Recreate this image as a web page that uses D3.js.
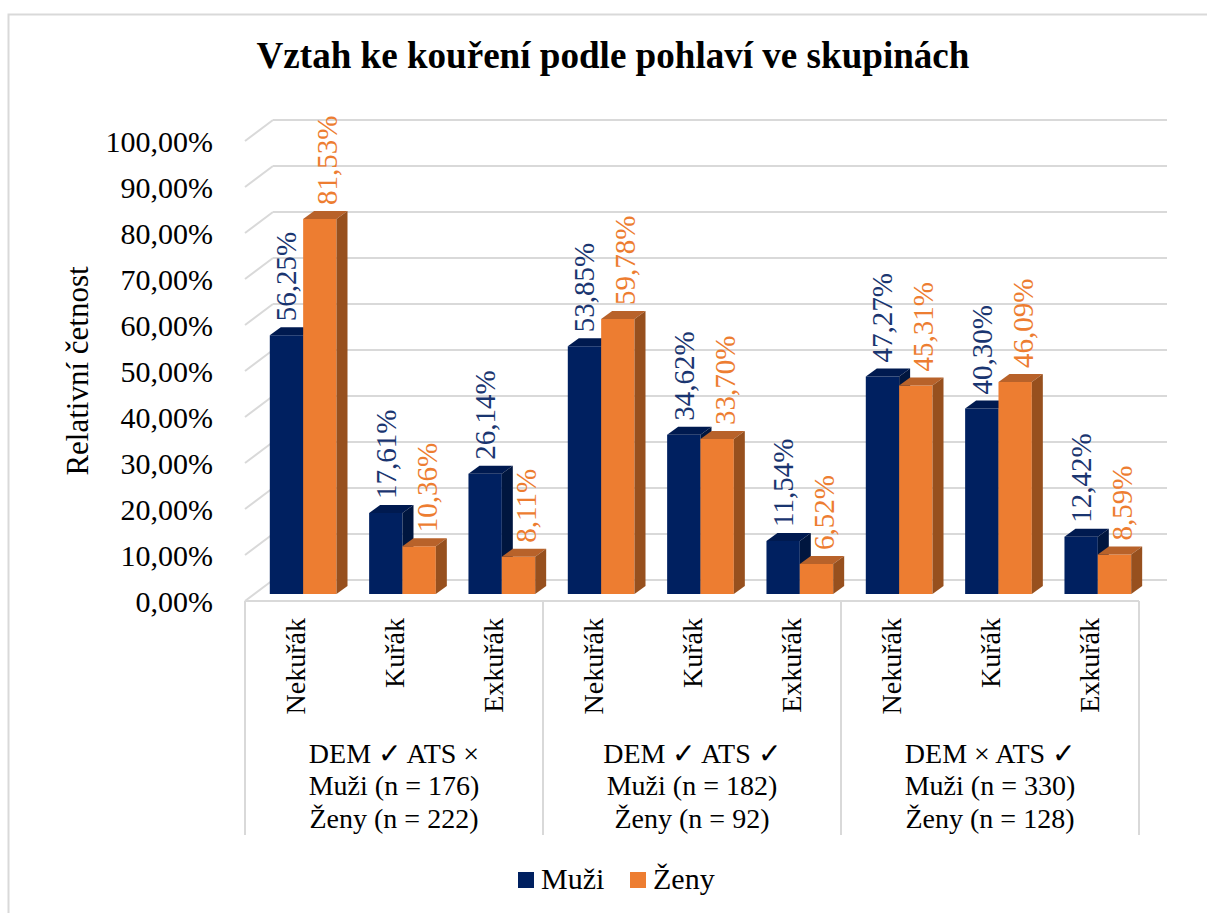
<!DOCTYPE html>
<html><head><meta charset="utf-8">
<script src="https://cdn.jsdelivr.net/npm/d3@7"></script>
<style>body{margin:0;background:#fff} svg{display:block}</style>
</head><body>
<svg id="c" width="1207" height="913"></svg>
<script>
// ---- data ----
const title = "Vztah ke kouření podle pohlaví ve skupinách";
const yAxisTitle = "Relativní četnost";
const categories = ["Nekuřák", "Kuřák", "Exkuřák"];
const groupLine1 = ["DEM ✓ ATS ×", "DEM ✓ ATS ✓", "DEM × ATS ✓"];
const groupLine2 = ["Muži (n = 176)", "Muži (n = 182)", "Muži (n = 330)"];
const groupLine3 = ["Ženy (n = 222)", "Ženy (n = 92)", "Ženy (n = 128)"];
const seriesNames = ["Muži", "Ženy"];
const muzi = [56.25, 17.61, 26.14, 53.85, 34.62, 11.54, 47.27, 40.30, 12.42];
const zeny = [81.53, 10.36, 8.11, 59.78, 33.70, 6.52, 45.31, 46.09, 8.59];
const yTicks = [0, 10, 20, 30, 40, 50, 60, 70, 80, 90, 100];

// ---- styles ----
const FONT = "'Liberation Serif','Times New Roman',serif";
const faces = [
  {front: "#002060", top: "#001a50", side: "#00163f", label: "#1a3570"},
  {front: "#ED7D31", top: "#B8622A", side: "#97501E", label: "#ED7D31"}
];
const GRID = "#d9d9d9";

const svg = d3.select("#c");
svg.append("rect").attr("x", 8.5).attr("y", 14.5).attr("width", 1220).attr("height", 920)
  .attr("fill", "#fff").attr("stroke", GRID).attr("stroke-width", 2);

const nCat = muzi.length;
const x = d3.scaleBand().domain(d3.range(nCat)).range([273, 1167]);
const xs = d3.scaleBand().domain([0, 1]).range([16.3, 83]);
const y = d3.scaleLinear().domain([0, 100]).range([580, 120]);
const F = {dx: -28, dy: 21};   // front plane offset
const B = {dx: -19.5, dy: 14}; // bar front offset
const D = {dx: 11, dy: -8};    // bar depth

const fmt = v => d3.format(".2f")(v).replace(".", ",") + "%";

// gridlines + wall diagonals
const g = svg.append("g");
yTicks.forEach(t => {
  g.append("line").attr("x1", 273).attr("x2", 1167).attr("y1", y(t)).attr("y2", y(t))
    .attr("stroke", GRID).attr("stroke-width", 2);
  g.append("line").attr("x1", 273 + F.dx).attr("y1", y(t) + F.dy).attr("x2", 273).attr("y2", y(t))
    .attr("stroke", GRID).attr("stroke-width", 2);
  svg.append("text").attr("x", 213).attr("y", y(t) + F.dy + 10.5)
    .attr("text-anchor", "end").attr("font-family", FONT).attr("font-size", 30)
    .attr("fill", "#000").text(fmt(t));
});

// category box
const fx0 = 273 + F.dx, fy0 = y(0) + F.dy;
const fx1 = 1167 + F.dx;
g.append("line").attr("x1", fx0).attr("x2", fx1).attr("y1", fy0).attr("y2", fy0)
  .attr("stroke", GRID).attr("stroke-width", 2);
for (let k = 0; k <= 3; k++) {
  const xx = fx0 + k * 3 * x.bandwidth();
  g.append("line").attr("x1", xx).attr("x2", xx).attr("y1", fy0).attr("y2", 835)
    .attr("stroke", GRID).attr("stroke-width", 2);
}

// bars
const series = [muzi, zeny];
const bars = svg.append("g");
for (let i = 0; i < nCat; i++) {
  series.forEach((vals, s) => {
    const v = vals[i];
    const x0 = x(i) + xs(s) + B.dx, x1 = x0 + xs.bandwidth();
    const yb = y(0) + B.dy, yt = y(v) + B.dy;
    const c = faces[s];
    bars.append("polygon").attr("fill", c.front)
      .attr("points", [[x0, yt], [x1, yt], [x1, yb], [x0, yb]].join(" "));
    bars.append("polygon").attr("fill", c.top)
      .attr("points", [[x0, yt], [x1, yt], [x1 + D.dx, yt + D.dy], [x0 + D.dx, yt + D.dy]].join(" "));
    bars.append("polygon").attr("fill", c.side)
      .attr("points", [[x1, yt], [x1 + D.dx, yt + D.dy], [x1 + D.dx, yb + D.dy], [x1, yb]].join(" "));
  });
}
// data labels
for (let i = 0; i < nCat; i++) {
  series.forEach((vals, s) => {
    const v = vals[i];
    const x0 = x(i) + xs(s) + B.dx;
    const cx = x0 + xs.bandwidth() / 2 + (s === 0 ? 0 : 7.5);
    const by = y(v) + B.dy + D.dy - 6;
    svg.append("text").attr("transform", `translate(${cx + 10},${by}) rotate(-90)`)
      .attr("text-anchor", "start").attr("font-family", FONT).attr("font-size", 29)
      .attr("fill", faces[s].label).text(fmt(v));
  });
}

// category labels
for (let i = 0; i < nCat; i++) {
  const cx = x(i) + x.bandwidth() / 2 + F.dx;
  svg.append("text").attr("transform", `translate(${cx + 10},618) rotate(-90)`)
    .attr("text-anchor", "end").attr("font-family", FONT).attr("font-size", 28)
    .attr("fill", "#000").text(categories[i % 3]);
}
// group labels
for (let k = 0; k < 3; k++) {
  const cx = fx0 + (k * 3 + 1.5) * x.bandwidth();
  [groupLine1[k], groupLine2[k], groupLine3[k]].forEach((t, j) => {
    svg.append("text").attr("x", cx).attr("y", 763 + j * 32.3).attr("text-anchor", "middle")
      .attr("font-family", FONT).attr("font-size", 28).attr("fill", "#000").text(t);
  });
}

// axis title
svg.append("text").attr("transform", "translate(88,371) rotate(-90)")
  .attr("text-anchor", "middle").attr("font-family", FONT).attr("font-size", 31)
  .attr("fill", "#000").text(yAxisTitle);

// title
const tt = svg.append("text").attr("x", 613).attr("y", 68).attr("text-anchor", "middle")
  .attr("font-family", FONT).attr("font-weight", "bold").attr("font-size", 34)
  .attr("fill", "#000").text(title);
const w = tt.node().getComputedTextLength();
tt.attr("font-size", 34 * 713 / w);

// legend
const legX = [518, 630];
seriesNames.forEach((n, s) => {
  svg.append("rect").attr("x", legX[s]).attr("y", 872).attr("width", 16).attr("height", 16)
    .attr("fill", faces[s].front);
  svg.append("text").attr("x", legX[s] + 23).attr("y", 889).attr("font-family", FONT)
    .attr("font-size", 30).attr("fill", "#000").text(n);
});
</script>
</body></html>
